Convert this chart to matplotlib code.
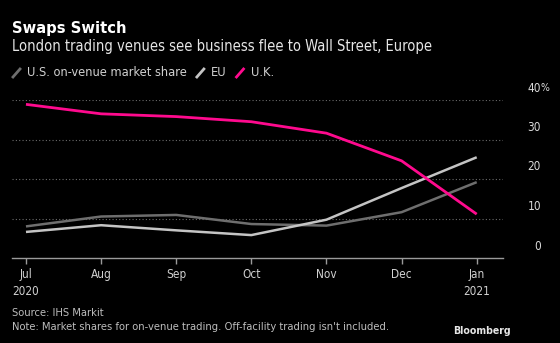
import matplotlib
matplotlib.use("Agg")
import matplotlib.pyplot as plt

months = ["Jul", "Aug", "Sep", "Oct", "Nov", "Dec", "Jan"]
years = ["2020", "", "", "", "", "", "2021"]
us_share = [8.0, 10.5, 10.9, 8.6, 8.2, 11.6, 19.2]
eu_share = [6.6, 8.3, 7.0, 5.8, 9.7, 17.7, 25.5]
uk_share = [38.9, 36.5, 35.8, 34.5, 31.6, 24.6, 11.1]
yticks = [0, 10, 20, 30, 40]

W, H = 560, 343
plt.rcParams['font.family'] = ['DejaVu Sans']
plt.rcParams['font.stretch'] = 'condensed'
fig = plt.figure(figsize=(W / 100, H / 100), dpi=100, facecolor="black")

def fx(px):
    return px / W

def fy(py):
    return 1 - py / H

ax = fig.add_axes([fx(12), fy(258), fx(503) - fx(12), fy(100) - fy(258)])
ax.set_facecolor("black")
x = list(range(len(months)))
ax.set_xlim(-0.186, 6.35)
ax.set_ylim(0, 40)

for v in yticks[1:]:
    ax.axhline(v, color="#6b6b6b", lw=0.8, ls=(0, (1, 2)), zorder=1)

ax.plot(x, us_share, color="#6e6e6e", lw=1.8, zorder=3, solid_capstyle="butt")
ax.plot(x, eu_share, color="#c4c4c4", lw=1.8, zorder=3, solid_capstyle="butt")
ax.plot(x, uk_share, color="#ff0a8e", lw=2.0, zorder=4, solid_capstyle="butt")

for s in ["top", "right", "left"]:
    ax.spines[s].set_visible(False)
ax.spines["bottom"].set_color("#9a9a9a")
ax.spines["bottom"].set_linewidth(1.0)
ax.set_yticks([])
ax.set_xticks(x)
ax.tick_params(axis="x", colors="#9a9a9a", length=4, width=1, labelcolor="#d0d0d0", labelsize=8.5, pad=3.5)
ax.set_xticklabels([m + ("\n" + y if y else "") for m, y in zip(months, years)], linespacing=1.35)
for lbl in ax.get_xticklabels():
    lbl.set_verticalalignment("top")

txtc = "#d9d9d9"
for v in yticks:
    yp = ax.transData.transform((0, v))[1] / H
    fig.text(fx(541), yp + 12 / H, str(v), color=txtc, fontsize=8.5, ha="right", va="center")
    if v == 40:
        fig.text(fx(540.5), yp + 12 / H, "%", color=txtc, fontsize=7.5, ha="left", va="center")

fig.text(fx(12), fy(28), "Swaps Switch", color="white", fontsize=10.6, fontweight="bold",
         fontstretch="normal", ha="left", va="center")
fig.text(fx(12), fy(47), "London trading venues see business flee to Wall Street, Europe", color="#e6e6e6", fontsize=10.5, ha="left", va="center")

# legend
lx = 13
items = [("U.S. on-venue market share", "#6e6e6e"), ("EU", "#c4c4c4"), ("U.K.", "#ff0a8e")]
ly = 73
for label, col in items:
    fig.add_artist(plt.Line2D([fx(lx), fx(lx + 7)], [fy(ly + 4), fy(ly - 4)], color=col, lw=2, transform=fig.transFigure))
    t = fig.text(fx(lx + 14), fy(ly), label, color="#d0d0d0", fontsize=9.2, ha="left", va="center")
    fig.canvas.draw()
    bb = t.get_window_extent()
    lx = bb.x1 + 10

fig.text(fx(12), fy(313), "Source: IHS Markit", color="#bdbdbd", fontsize=8, ha="left", va="center")
fig.text(fx(12), fy(327), "Note: Market shares for on-venue trading. Off-facility trading isn't included.", color="#bdbdbd", fontsize=8, ha="left", va="center")
fig.text(fx(511), fy(331), "Bloomberg", color="#e6e6e6", fontsize=7.6, fontweight="bold", ha="right", va="center")

fig.savefig("out.png", dpi=100, facecolor="black")
